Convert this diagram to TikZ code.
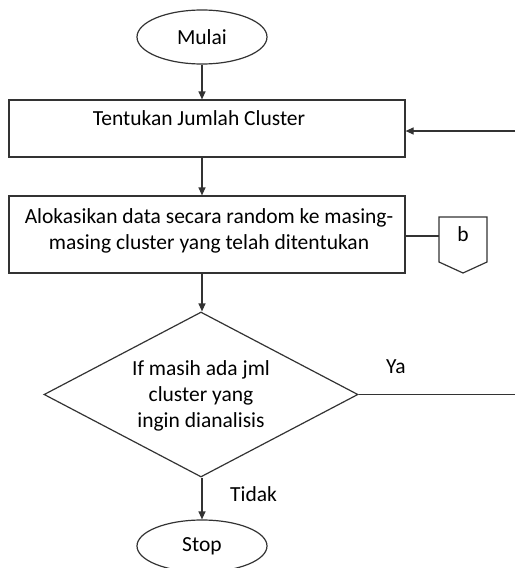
\documentclass[tikz,border=0pt]{standalone}
\usepackage{fontspec}
\setmainfont{Carlito}
\usetikzlibrary{shapes.geometric,arrows.meta}
\begin{document}
\begin{tikzpicture}[x=1pt,y=-1pt,
  every node/.style={font=\fontsize{21.5}{26}\selectfont, text=black},
  line/.style={draw=black!80, line width=1.2pt},
  arr/.style={line, -{Triangle[length=8pt,width=7pt]}},
  term/.style={ellipse, line, minimum width=130pt, minimum height=54pt, inner sep=0pt},
  box/.style={rectangle, line, minimum width=396pt, inner sep=0pt},
  lbl/.style={inner sep=0pt, anchor=base}
]
\useasboundingbox (0,0) rectangle (515,568);
\node[term] (mulai) at (202,37) {Mulai};
\node[box, minimum height=57pt] (r1) at (207,128.5) {};
\node[lbl] (t1) at (199,125) {Tentukan Jumlah Cluster};
\node[box, minimum height=77pt] (r2) at (207,234.5) {};
\node[lbl, align=center] (t2) at (209,249) {Alokasikan data secara random ke masing-\\masing cluster yang telah ditentukan};
\node[diamond, line, minimum width=314pt, minimum height=165pt, inner sep=0pt, aspect=1.9] (d) at (201,394.5) {};
\node[lbl, align=center] (t3) at (201,427) {If masih ada jml\\cluster yang\\ingin dianalisis};
\node[term, minimum height=52pt] (stop) at (202,546) {Stop};
\draw[line] (439,217) -- (487,217) -- (487,262) -- (463,273) -- (439,262) -- cycle;
\node[lbl] (b) at (463,241) {b};
\coordinate (bl) at (439,236);
\coordinate (rin) at (515,131);
\coordinate (yout) at (515,394.5);
\draw[arr] (mulai.south) -- (mulai.south |- r1.north);
\draw[arr] (mulai.south |- r1.south) -- (mulai.south |- r2.north);
\draw[arr] (mulai.south |- r2.south) -- (mulai.south |- d.north);
\draw[arr] (mulai.south |- d.south) -- (stop.north);
\draw[arr] (rin) -- (r1.east |- rin);
\draw[line] (r2.east |- bl) -- (bl);
\draw[line] (d.east) -- (yout);
\node[lbl, anchor=base west] (ya) at (386,373) {Ya};
\node[lbl, anchor=base west] (tidak) at (230,501) {Tidak};
\end{tikzpicture}
\end{document}
